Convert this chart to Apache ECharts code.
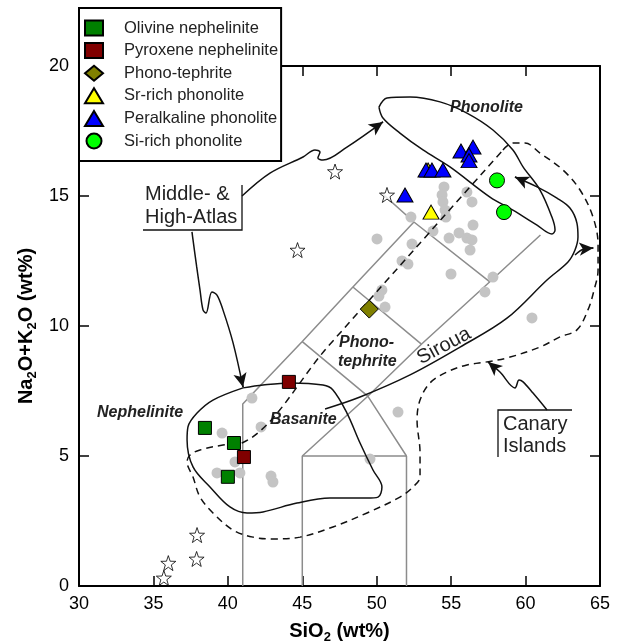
<!DOCTYPE html>
<html>
<head>
<meta charset="utf-8">
<script src="https://cdn.jsdelivr.net/npm/echarts@6/dist/echarts.min.js"></script>
<style>
  html, body { margin: 0; padding: 0; background: #fff; }
  #tasChart { width: 622px; height: 642px; }
</style>
</head>
<body>
<div id="tasChart"></div>
<script>
const FONT = 'Liberation Sans, Arial, Helvetica, sans-serif'

// axis ranges: SiO2 (x) and Na2O+K2O (y), wt%
const xRange = [30, 65, 5]
const yRange = [0, 20, 5]

// samples [SiO2, Na2O+K2O]
const olivineNephelinite = [[38.46, 6.08], [40.41, 5.5], [40.0, 4.2]]
const pyroxeneNephelinite = [[44.1, 7.85], [41.08, 4.96]]
const phonoTephrite = [[49.5, 10.65]]
const srRichPhonolite = [[53.45, 16.0], [53.65, 14.38]]
const peralkalinePhonolite = [[51.9, 15.04], [53.31, 16.0], [53.71, 16.0], [54.45, 16.0],
  [55.66, 16.73], [56.47, 16.88], [56.2, 16.58], [56.2, 16.36]]
const siRichPhonolite = [[58.08, 15.6], [58.55, 14.38]]

// literature data (grey dots) and Middle-/High-Atlas (stars)
const literature = [[54.52, 15.35], [54.39, 15.04], [54.45, 14.77], [54.59, 14.46], [54.65, 14.19],
  [56.06, 15.15], [56.4, 14.77], [56.47, 13.88], [55.53, 13.58], [54.86, 13.38], [56.06, 13.38],
  [56.4, 13.31], [56.27, 12.92], [53.78, 13.65], [52.3, 14.19], [50.02, 13.35], [52.37, 13.15],
  [51.7, 12.5], [52.1, 12.38], [54.99, 12.0], [57.81, 11.88], [57.27, 11.31], [50.35, 11.38],
  [50.15, 11.15], [50.56, 10.73], [60.43, 10.31], [41.62, 7.23], [42.23, 6.12], [39.61, 5.88],
  [40.48, 4.77], [39.27, 4.35], [40.81, 4.35], [42.9, 4.23], [43.03, 4.0], [49.55, 4.88], [51.43, 6.69]]
const atlasStars = [[47.2, 15.94], [50.69, 15.04], [44.68, 12.92], [37.93, 1.96], [37.9, 1.04],
  [36.0, 0.88], [35.7, 0.31]]

// TAS field boundaries
const tasLines = [
  [[41, 0], [41, 7], [45, 9.4], [48.4, 11.5], [52.5, 14]],
  [[50.3, 15.13], [52.5, 14], [57.6, 11.7]],
  [[45, 0], [45, 5], [52, 5], [52, 0]],
  [[45, 5], [49.4, 7.3], [52, 5]],
  [[45, 9.4], [49.4, 7.3], [53, 9.3], [57.6, 11.7], [61, 13.5]],
  [[48.4, 11.5], [53, 9.3]]
]

// outlines
const phonoliteLoop = [[50.15, 18.42], [50.69, 18.77], [52.24, 18.81], [54.25, 18.62], [56.06, 18.19],
  [57.81, 17.54], [59.15, 16.77], [59.83, 16.12], [60.97, 15.23], [61.77, 14.19], [61.98, 13.69],
  [61.77, 13.54], [60.77, 13.88], [59.15, 14.46], [57.61, 14.96], [54.92, 16.12], [53.11, 16.77],
  [51.56, 17.42], [50.42, 18.0], [50.15, 18.42]]
const nephelIniteLoop = [[41.02, 7.62], [42.36, 7.73], [44.17, 7.81], [46.39, 7.73], [47.06, 7.54],
  [48.0, 6.65], [48.88, 5.5], [49.75, 4.46], [50.35, 3.81], [50.09, 3.42], [49.35, 3.38], [46.86, 3.38],
  [44.64, 3.19], [42.36, 2.85], [41.29, 2.81], [40.14, 3.04], [38.8, 3.81], [37.66, 4.58], [37.26, 5.62],
  [37.32, 6.12], [37.93, 6.65], [39.0, 7.15], [41.02, 7.62]]
const canaryLoop = [[58.48, 16.77], [59.15, 17.04], [59.96, 17.04], [60.97, 16.65], [62.51, 16.0],
  [63.66, 15.23], [64.53, 14.19], [64.87, 13.12], [64.87, 12.15], [64.6, 11.38], [64.19, 10.62],
  [63.45, 9.85], [62.31, 9.58], [60.97, 9.19], [58.75, 8.77], [57.41, 8.62], [56.06, 8.5], [54.72, 8.23],
  [53.58, 7.81], [52.91, 7.15], [52.71, 6.38], [52.91, 5.12], [52.91, 4.19], [52.44, 3.81], [51.56, 3.42],
  [49.35, 2.81], [47.06, 2.27], [44.85, 1.88], [43.03, 1.81], [41.69, 1.88], [40.35, 2.15], [39.0, 2.81],
  [38.13, 3.42], [37.66, 4.19], [37.26, 4.77], [37.46, 5.04], [38.13, 5.23], [39.67, 5.42], [40.95, 5.5],
  [46.8, 9.26], [52.6, 12.99], [58.48, 16.77]]

// arrows (last point = arrow head)
const sirouaArrow = [[46.53, 6.81], [48.88, 7.27], [52.24, 8.12], [55.6, 9.19], [58.75, 10.3],
  [61.44, 11.77], [62.85, 12.46], [63.32, 12.92], [63.52, 13.42], [63.45, 13.96], [62.98, 14.54],
  [62.11, 14.92], [60.77, 15.35], [59.29, 15.73]]
const sideArrow = [[63.32, 12.73], [63.95, 12.97], [64.55, 13.0]]
const atlasArrowUp = [[40.95, 15.0], [42.83, 15.88], [45.05, 16.5], [45.85, 16.77], [46.19, 16.69],
  [46.05, 16.46], [46.39, 16.38], [48.0, 16.88], [50.42, 17.85]]
const atlasArrowDown = [[37.59, 13.62], [37.66, 13.31], [37.9, 12.3], [38.13, 11.38], [38.33, 10.62],
  [38.53, 10.5], [38.93, 11.31], [39.27, 11.19], [39.67, 10.62], [40.35, 9.35], [41.02, 7.65]]
const canaryArrow = [[61.44, 6.77], [60.5, 7.42], [59.83, 7.85], [59.56, 7.92], [59.29, 7.62],
  [58.28, 8.23], [57.48, 8.62]]

const STAR = 'path://M0,-10L2.35,-3.24L9.51,-3.09L3.8,1.24L5.88,8.09L0,4L-5.88,8.09L-3.8,1.24L-9.51,-3.09L-2.35,-3.24Z'

function outline(points, dashed) {
  return {
    type: 'line',
    data: points,
    symbol: 'none',
    smooth: 0.35,
    silent: true,
    z: 3,
    lineStyle: { color: '#111', width: 1.5, type: dashed ? [7, 5] : 'solid' }
  }
}

function arrow(points) {
  const s = outline(points, false)
  const end = points[points.length - 1]
  const prev = points[points.length - 2]
  const start = [end[0] + (prev[0] - end[0]) * 0.2, end[1] + (prev[1] - end[1]) * 0.2]
  s.markLine = {
    silent: true,
    symbol: ['none', 'arrow'],
    symbolSize: [10, 14],
    label: { show: false },
    lineStyle: { color: '#111', width: 1.5, type: 'solid' },
    data: [[{ coord: start }, { coord: end }]]
  }
  return s
}

function samples(name, data, symbol, size, color) {
  return {
    name: name,
    type: 'scatter',
    data: data,
    symbol: symbol,
    symbolSize: size,
    z: 5,
    itemStyle: { color: color, borderColor: '#000', borderWidth: 1, opacity: 1 }
  }
}

const myChart = echarts.init(document.getElementById('tasChart'))

const axisCommon = {
  type: 'value',
  splitLine: { show: false },
  nameMoveOverlap: false,
  axisLine: { show: true, onZero: false, lineStyle: { color: '#000', width: 2 } },
  axisTick: { show: true, inside: true, length: 10, lineStyle: { color: '#000', width: 1.5 } }
}
const nameStyle = {
  fontSize: 20, fontWeight: 'bold', color: '#000', fontFamily: FONT,
  rich: { s: { fontSize: 13, fontWeight: 'bold', color: '#000', fontFamily: FONT, padding: [12, 0, 0, 0] } }
}

const option = {
  animation: false,
  backgroundColor: '#fff',
  grid: { left: 79, right: 22, top: 66, bottom: 56, containLabel: false, outerBoundsMode: 'none' },
  xAxis: [
    Object.assign({}, axisCommon, {
      position: 'bottom', min: xRange[0], max: xRange[1], interval: xRange[2],
      axisLabel: { fontSize: 18, color: '#000', fontFamily: FONT, margin: 9, showMinLabel: true, showMaxLabel: true },
      name: 'SiO{s|2} (wt%)', nameLocation: 'middle', nameGap: 33, nameTextStyle: nameStyle
    }),
    Object.assign({}, axisCommon, {
      position: 'top', min: xRange[0], max: xRange[1], interval: xRange[2],
      axisLabel: { show: false }
    })
  ],
  yAxis: [
    Object.assign({}, axisCommon, {
      position: 'left', min: yRange[0], max: yRange[1], interval: yRange[2],
      axisLabel: { fontSize: 18, color: '#000', fontFamily: FONT, margin: 10 },
      name: 'Na{s|2}O+K{s|2}O (wt%)', nameLocation: 'middle', nameGap: 40, nameTextStyle: nameStyle
    }),
    Object.assign({}, axisCommon, {
      position: 'right', min: yRange[0], max: yRange[1], interval: yRange[2],
      axisLabel: { show: false }
    })
  ],
  legend: {
    orient: 'vertical',
    left: 79,
    top: 8,
    padding: [11, 3, 11, 5],
    itemGap: 4.6,
    itemWidth: 18,
    itemHeight: 15,
    backgroundColor: '#fff',
    borderColor: '#000',
    borderWidth: 2,
    z: 10,
    selectedMode: false,
    textStyle: { fontSize: 16.5, color: '#222', fontFamily: FONT, lineHeight: 18, padding: [0, 0, 0, 16] },
    data: ['Olivine nephelinite', 'Pyroxene nephelinite', 'Phono-tephrite',
      'Sr-rich phonolite', 'Peralkaline phonolite', 'Si-rich phonolite']
  },
  graphic: [
    { type: 'text', x: 450, y: 108, style: { text: 'Phonolite', fontSize: 16, fontWeight: 'bold', fontStyle: 'italic', fontFamily: FONT, fill: '#222', verticalAlign: 'middle' } },
    { type: 'text', x: 339, y: 343, style: { text: 'Phono-', fontSize: 16, fontWeight: 'bold', fontStyle: 'italic', fontFamily: FONT, fill: '#222', verticalAlign: 'middle' } },
    { type: 'text', x: 338, y: 362, style: { text: 'tephrite', fontSize: 16, fontWeight: 'bold', fontStyle: 'italic', fontFamily: FONT, fill: '#222', verticalAlign: 'middle' } },
    { type: 'text', x: 97, y: 413, style: { text: 'Nephelinite', fontSize: 16, fontWeight: 'bold', fontStyle: 'italic', fontFamily: FONT, fill: '#222', verticalAlign: 'middle' } },
    { type: 'text', x: 270, y: 420, style: { text: 'Basanite', fontSize: 16, fontWeight: 'bold', fontStyle: 'italic', fontFamily: FONT, fill: '#222', verticalAlign: 'middle' } },
    { type: 'text', x: 444, y: 346, rotation: 0.49, style: { text: 'Siroua', fontSize: 20, fontFamily: FONT, fill: '#222', align: 'center', verticalAlign: 'middle' } },
    { type: 'text', x: 503, y: 424, style: { text: 'Canary', fontSize: 20, fontFamily: FONT, fill: '#222', verticalAlign: 'middle' } },
    { type: 'text', x: 503, y: 446, style: { text: 'Islands', fontSize: 20, fontFamily: FONT, fill: '#222', verticalAlign: 'middle' } },
    { type: 'text', x: 145, y: 194, style: { text: 'Middle- &', fontSize: 20, fontFamily: FONT, fill: '#222', verticalAlign: 'middle' } },
    { type: 'text', x: 145, y: 217, style: { text: 'High-Atlas', fontSize: 20, fontFamily: FONT, fill: '#222', verticalAlign: 'middle' } },
    { type: 'polyline', shape: { points: [[242, 185], [242, 230], [143, 230]] }, style: { stroke: '#111', lineWidth: 1.3, fill: null } },
    { type: 'polyline', shape: { points: [[498, 457], [498, 410], [572, 410]] }, style: { stroke: '#111', lineWidth: 1.3, fill: null } }
  ],
  series: [
    ...tasLines.map(line => ({
      type: 'line', data: line, symbol: 'none', silent: true, z: 1,
      lineStyle: { color: '#8c8c8c', width: 1.5 }
    })),
    {
      type: 'scatter', data: literature, symbol: 'circle', symbolSize: 11, silent: true, z: 2,
      itemStyle: { color: '#c4c4c4', opacity: 1 }
    },
    outline(phonoliteLoop, false),
    outline(nephelIniteLoop, false),
    outline(canaryLoop, true),
    arrow(sirouaArrow),
    arrow(sideArrow),
    arrow(atlasArrowUp),
    arrow(atlasArrowDown),
    arrow(canaryArrow),
    {
      type: 'scatter', data: atlasStars, symbol: STAR, symbolSize: 15, silent: true, z: 4,
      itemStyle: { color: '#fff', borderColor: '#000', borderWidth: 1 }
    },
    samples('Olivine nephelinite', olivineNephelinite, 'rect', 13, '#008000'),
    samples('Pyroxene nephelinite', pyroxeneNephelinite, 'rect', 13, '#800000'),
    samples('Phono-tephrite', phonoTephrite, 'diamond', 18, '#808000'),
    samples('Sr-rich phonolite', srRichPhonolite, 'triangle', [16, 14], '#ffff00'),
    samples('Peralkaline phonolite', peralkalinePhonolite, 'triangle', [16, 14], '#0000ff'),
    samples('Si-rich phonolite', siRichPhonolite, 'circle', 15, '#00ff00')
  ]
}

myChart.setOption(option)
</script>
</body>
</html>
